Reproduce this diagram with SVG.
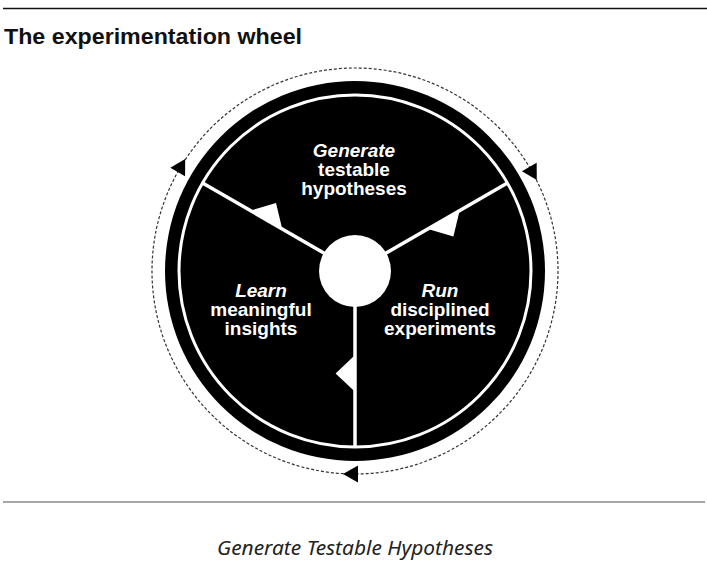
<svg xmlns="http://www.w3.org/2000/svg" width="707" height="568" viewBox="0 0 707 568">
<style>
.title{font-family:"Liberation Sans",Arial,sans-serif;font-weight:bold;font-size:22px;fill:#111}
.lbl{font-family:"Liberation Sans",Arial,sans-serif;font-weight:bold;font-size:19px;fill:#fff;text-anchor:middle}
.it{font-style:italic}
.cap{font-family:"Noto Sans","Open Sans",sans-serif;font-style:italic;font-size:19px;fill:#222;text-anchor:middle}
.div{stroke:#fff;stroke-width:3.5;fill:none}
.flag{fill:#fff}
.arr{fill:#000}
</style>
<defs>
<polygon id="flagShape" class="flag" points="-106,-60 -79,-68 -73,-43"/>
<polygon id="arrShape" class="arr" points="-12,203 3,194.5 3,211.5"/>
</defs>
<rect width="707" height="568" fill="#fff"/>
<line x1="3" y1="8.5" x2="707" y2="8.5" stroke="#111" stroke-width="1.5"/>
<line x1="3" y1="502" x2="705" y2="502" stroke="#888" stroke-width="1.5"/>
<g id="title"><text class="title" x="4" y="44" textLength="298" lengthAdjust="spacingAndGlyphs">The experimentation wheel</text></g>
<g id="wheel">
<circle cx="355" cy="271" r="190" fill="#000"/>
<circle cx="355" cy="271" r="176" fill="none" stroke="#fff" stroke-width="3"/>
<g transform="translate(355 271)">
<line class="div" x1="0" y1="0" x2="0" y2="176"/>
<line class="div" x1="0" y1="0" x2="-152.4" y2="-88"/>
<line class="div" x1="0" y1="0" x2="152.4" y2="-88"/>
<use href="#flagShape"/>
<use href="#flagShape" transform="rotate(120)"/>
<use href="#flagShape" transform="rotate(240)"/>
<circle cx="0" cy="0" r="36" fill="#fff"/>
</g>
</g>
<g id="node-generate">
<text class="lbl it" x="354" y="157">Generate</text>
<text class="lbl" x="354" y="176">testable</text>
<text class="lbl" x="354" y="195">hypotheses</text>
</g>
<g id="node-learn">
<text class="lbl it" x="261" y="297">Learn</text>
<text class="lbl" x="261" y="316">meaningful</text>
<text class="lbl" x="261" y="335">insights</text>
</g>
<g id="node-run">
<text class="lbl it" x="440" y="297">Run</text>
<text class="lbl" x="440" y="316">disciplined</text>
<text class="lbl" x="440" y="335">experiments</text>
</g>
<g id="connectors" transform="translate(355 271)">
<circle cx="0" cy="0" r="203" fill="none" stroke="#333" stroke-width="1.2" stroke-dasharray="3 2"/>
<use href="#arrShape"/>
<use href="#arrShape" transform="rotate(120)"/>
<use href="#arrShape" transform="rotate(240)"/>
</g>
<g id="caption"><text class="cap" x="355" y="555" textLength="276" lengthAdjust="spacingAndGlyphs">Generate Testable Hypotheses</text></g>
</svg>
